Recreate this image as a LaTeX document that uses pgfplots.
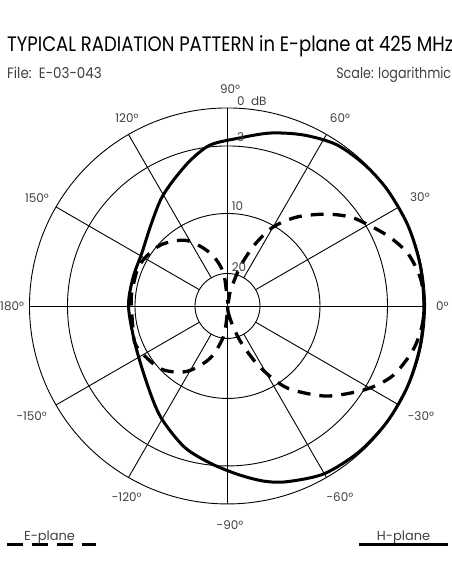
\documentclass[border=0pt]{standalone}
\usepackage{fontspec}
\setmainfont{Poppins}
\usepackage{pgfplots}
\pgfplotsset{compat=1.18}
\definecolor{lbl}{gray}{0.25}
\begin{document}
\begin{tikzpicture}
\begin{axis}[%
width=452bp,
height=584bp,
scale only axis,
anchor=south west,
at={(0,0)},
hide axis,
clip=false,
xmin=-1.149, xmax=1.134,
ymin=-1.404, ymax=1.545,
]
% grid: rings and spokes
\draw[line width=0.9bp] (axis cs:0,0) circle[radius=198bp];
\draw[line width=0.9bp] (axis cs:0,0) circle[radius=160bp];
\draw[line width=0.9bp] (axis cs:0,0) circle[radius=92.5bp];
\draw[line width=0.9bp] (axis cs:0,0) circle[radius=32.5bp];
\draw[line width=0.9bp] (axis cs:-1,0) -- (axis cs:1,0);
\draw[line width=0.9bp] (axis cs:0,-1) -- (axis cs:0,1);
\pgfplotsinvokeforeach{30,60,120,150,210,240,300,330}{
  \draw[line width=0.9bp] (axis cs:{0.164*cos(#1)},{0.164*sin(#1)}) -- (axis cs:{cos(#1)},{sin(#1)});
}

% H-plane (solid), angle in degrees, radius relative to 0 dB ring
\addplot[black, line width=3bp, smooth cycle, data cs=polar] coordinates {
(-180,0.50) (-158,0.504) (-136,0.565) (-121,0.655) (-107,0.745) (-96,0.80)
(-86,0.855) (-78,0.905) (-71,0.938) (-60,0.978) (-48,0.992)
(-36,0.996) (-24,0.996) (-12,0.994) (0,0.992) (12,0.995) (24,0.998)
(36,0.998) (46,0.994) (56,0.983) (66,0.945) (76,0.90) (86,0.85)
(96,0.818) (104,0.761) (113,0.693) (122,0.635) (134,0.56) (148,0.509)
(163,0.498)
};

% E-plane (dashed)
\addplot[black, line width=3.3bp, smooth cycle, data cs=polar,
  dash pattern=on 13bp off 9bp] coordinates {
(-90,0.0) (-84,0.03) (-76,0.09) (-70,0.19) (-63,0.33) (-57,0.455) (-52,0.54)
(-42,0.68) (-31,0.817) (-23,0.905) (-14,0.96) (-7,0.985) (0,0.995)
(8,0.985) (16,0.95) (23,0.89) (30,0.82) (36,0.765) (43,0.68) (52,0.57)
(60,0.46) (66,0.34) (72,0.21) (79,0.08) (86,0.02)
(97,0.17) (108,0.28) (122,0.39) (138,0.458) (155,0.49) (172,0.488)
(180,0.485) (193,0.49) (204,0.503) (223,0.464) (238,0.39) (251.5,0.279)
(262.3,0.157) (268,0.04)
};

% texts
\node[anchor=base west, font=\fontsize{21}{21}\selectfont, inner sep=0pt]
  at (axis cs:-1.114,1.284) {\scalebox{0.862}[1]{TYPICAL RADIATION PATTERN in E-plane at 425 MHz}};
\node[anchor=base west, font=\fontsize{15}{15}\selectfont, inner sep=0pt, text=lbl]
  at (axis cs:-1.114,1.148) {\scalebox{0.9}[1]{File:\ \ E-03-043}};
\node[anchor=base east, font=\fontsize{15}{15}\selectfont, inner sep=0pt, text=lbl]
  at (axis cs:1.131,1.148) {\scalebox{0.85}[1]{Scale: logarithmic}};

\tikzset{deg/.style={anchor=base, font=\fontsize{12}{12}\selectfont, inner sep=0pt, text=lbl}}
\node[deg] at (axis cs:0.0126,1.074) {90°};
\node[deg, anchor=base west] at (axis cs:0.048,1.010) {0\ \ dB};
\node[deg] at (axis cs:-0.508,0.926) {120°};
\node[deg] at (axis cs:0.568,0.926) {60°};
\node[deg] at (axis cs:-0.962,0.520) {150°};
\node[deg] at (axis cs:0.972,0.527) {30°};
\node[deg, anchor=base west] at (axis cs:-1.149,-0.023) {180°};
\node[deg, anchor=base west] at (axis cs:1.053,-0.023) {0°};
\node[deg] at (axis cs:-0.989,-0.579) {-150°};
\node[deg] at (axis cs:0.977,-0.579) {-30°};
\node[deg] at (axis cs:-0.509,-0.988) {-120°};
\node[deg] at (axis cs:0.568,-0.988) {-60°};
\node[deg] at (axis cs:0.0126,-1.131) {-90°};
\node[deg, anchor=base west] at (axis cs:0.048,0.830) {3};
\node[deg, anchor=base west] at (axis cs:0.021,0.481) {10};
\node[deg, anchor=base west] at (axis cs:0.021,0.173) {20};

% legend
\node[deg, anchor=base west, font=\fontsize{13}{13}\selectfont] at (axis cs:-1.028,-1.182) {E-plane};
\node[deg, anchor=base west, font=\fontsize{13}{13}\selectfont] at (axis cs:0.754,-1.182) {H-plane};
\draw[line width=3bp, dash pattern=on 16bp off 9bp] (axis cs:-1.112,-1.207) -- (axis cs:-0.665,-1.207);
\draw[line width=3bp] (axis cs:0.666,-1.207) -- (axis cs:1.115,-1.207);
\end{axis}
\pgfresetboundingbox
\path[use as bounding box] (0,0) rectangle (452bp,584bp);
\end{tikzpicture}
\end{document}
